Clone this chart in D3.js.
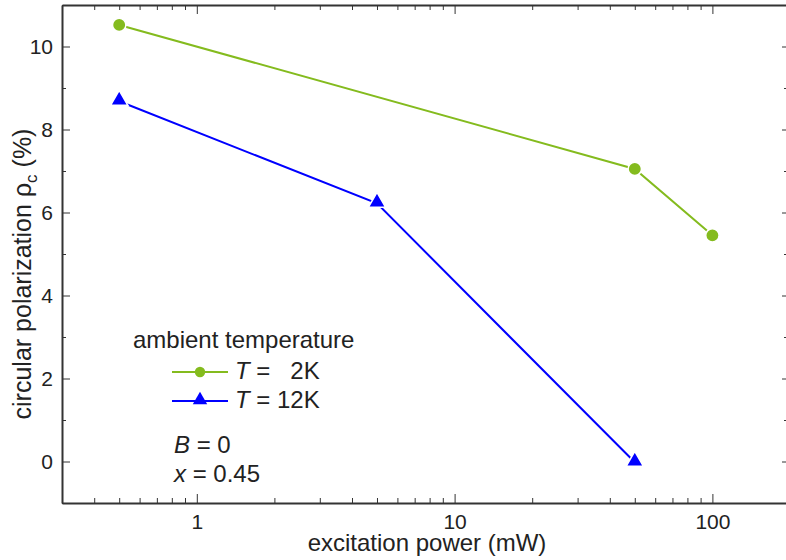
<!DOCTYPE html>
<html>
<head>
<meta charset="utf-8">
<script src="https://cdn.jsdelivr.net/npm/d3@7"></script>
<style>
  body { margin: 0; background: #fff; }
  text { font-family: "Liberation Sans", Arial, sans-serif; fill: #222; }
  .axis path, .axis line { stroke: #333; }
  .axis text { font-size: 21px; }
</style>
</head>
<body>
<div id="chart"></div>
<script>
const power2K = [0.5, 50, 100];
const rho2K = [10.52, 7.05, 5.45];
const power12K = [0.5, 5, 50];
const rho12K = [8.68, 6.22, -0.02];
const xTicks = [1, 10, 100];
const yTicks = [0, 2, 4, 6, 8, 10];

const width = 786, height = 560;
const margin = { top: 5, right: -4, bottom: 57, left: 62 };
const innerWidth = width - margin.left - margin.right;
const innerHeight = height - margin.top - margin.bottom;
const green = "#84bb1e", blue = "#0000ff";

const svg = d3.select("#chart").append("svg")
  .attr("width", width).attr("height", height);

const g = svg.append("g").attr("transform", `translate(${margin.left},${margin.top})`);

const x = d3.scaleLog().domain([0.3, 200]).range([0, innerWidth]);
const y = d3.scaleLinear().domain([-1, 11]).range([innerHeight, 0]);

// minor ticks
const xMinor = [];
[0.1, 1, 10, 100].forEach(d => { for (let k = 2; k <= 9; k++) { const v = d * k; if (v > 0.3 && v < 200 && !xTicks.includes(v)) xMinor.push(v); } });
const yMinor = [-1, 1, 3, 5, 7, 9, 11];

// tick-only axis: no labels, optional frame line
function ticksOnly(axis, transform, keepDomain) {
  g.append("g").attr("class", "axis").attr("transform", transform)
    .call(axis.tickSizeOuter(0))
    .call(a => a.selectAll("text").remove())
    .call(a => keepDomain ? a.select(".domain").attr("stroke-width", 2) : a.select(".domain").remove());
}

g.append("g").attr("class", "axis").attr("transform", `translate(0,${innerHeight})`)
  .call(d3.axisBottom(x).tickValues(xTicks).tickFormat(d3.format("d")).tickSizeInner(-9).tickSizeOuter(0).tickPadding(11))
  .call(a => a.select(".domain").attr("stroke-width", 2));
ticksOnly(d3.axisBottom(x).tickValues(xMinor).tickSizeInner(-5), `translate(0,${innerHeight})`, false);
ticksOnly(d3.axisTop(x).tickValues(xTicks).tickSizeInner(-9), null, true);
ticksOnly(d3.axisTop(x).tickValues(xMinor).tickSizeInner(-5), null, false);

g.append("g").attr("class", "axis")
  .call(d3.axisLeft(y).tickValues(yTicks).tickSizeInner(-8).tickSizeOuter(0).tickPadding(9))
  .call(a => a.select(".domain").attr("stroke-width", 2));
ticksOnly(d3.axisLeft(y).tickValues(yMinor).tickSizeInner(-4), null, false);
ticksOnly(d3.axisRight(y).tickValues(yTicks).tickSizeInner(-8), `translate(${innerWidth},0)`, true);
ticksOnly(d3.axisRight(y).tickValues(yMinor).tickSizeInner(-6), `translate(${innerWidth},0)`, false);

const line = d3.line().x(d => x(d[0])).y(d => y(d[1]));
const s2 = power2K.map((p, i) => [p, rho2K[i]]);
const s12 = power12K.map((p, i) => [p, rho12K[i]]);

g.append("path").datum(s2).attr("d", line).attr("fill", "none").attr("stroke", green).attr("stroke-width", 2);
g.append("path").datum(s12).attr("d", line).attr("fill", "none").attr("stroke", blue).attr("stroke-width", 2);

const circ = d3.symbol().type(d3.symbolCircle).size(140);
const tri = d3.symbol().type(d3.symbolTriangle).size(130);
const circS = d3.symbol().type(d3.symbolCircle).size(85);
const triS = d3.symbol().type(d3.symbolTriangle).size(90);

g.selectAll(".pt2").data(s2).join("path")
  .attr("transform", d => `translate(${x(d[0])},${y(d[1])})`)
  .attr("d", circ).attr("fill", green).attr("stroke", "#fff").attr("stroke-width", 1.5);
g.selectAll(".pt12").data(s12).join("path")
  .attr("transform", d => `translate(${x(d[0])},${y(d[1]) - 1})`)
  .attr("d", tri).attr("fill", blue).attr("stroke", "#fff").attr("stroke-width", 1.5);

// legend
svg.append("text").attr("x", 133).attr("y", 348).attr("font-size", 24).text("ambient temperature");
const leg = [
  { y: 372, color: green, sym: circS, label: "=   2K" },
  { y: 401, color: blue, sym: triS, label: "= 12K" }
];
leg.forEach(l => {
  svg.append("line").attr("x1", 172).attr("x2", 228).attr("y1", l.y).attr("y2", l.y)
    .attr("stroke", l.color).attr("stroke-width", 2);
  svg.append("path").attr("transform", `translate(200,${l.y - (l.sym === triS ? 1 : 0)})`)
    .attr("d", l.sym).attr("fill", l.color);
  const t = svg.append("text").attr("x", 235).attr("y", l.y + 7).attr("font-size", 24).attr("xml:space", "preserve");
  t.append("tspan").attr("font-style", "italic").text("T");
  t.append("tspan").text(" " + l.label);
});

const b = svg.append("text").attr("x", 174).attr("y", 453).attr("font-size", 24).attr("xml:space", "preserve");
b.append("tspan").attr("font-style", "italic").text("B");
b.append("tspan").text(" = 0");
const xx = svg.append("text").attr("x", 174).attr("y", 482).attr("font-size", 24);
xx.append("tspan").attr("font-style", "italic").text("x");
xx.append("tspan").text(" = 0.45");

// axis titles
svg.append("text").attr("text-anchor", "middle").attr("x", 427).attr("y", 551).attr("font-size", 24)
  .text("excitation power (mW)");
const yl = svg.append("text").attr("text-anchor", "middle").attr("font-size", 25)
  .attr("transform", `translate(31,274) rotate(-90)`);
yl.append("tspan").text("circular polarization ρ");
yl.append("tspan").attr("font-size", 17).attr("dy", 6).text("c");
yl.append("tspan").attr("dy", -6).text(" (%)");
</script>
</body>
</html>
